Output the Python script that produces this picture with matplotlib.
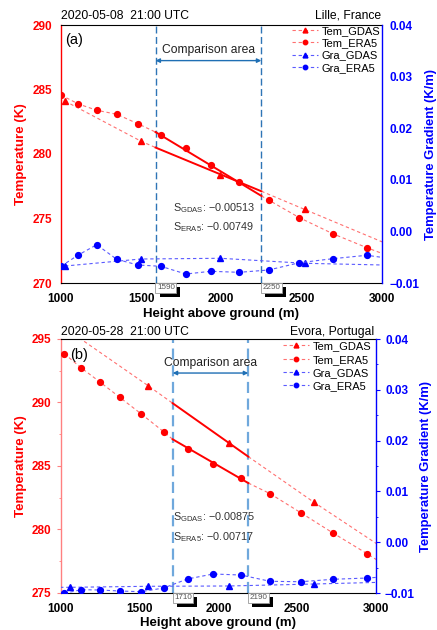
import numpy as np
import matplotlib
matplotlib.use('Agg')
import matplotlib.pyplot as plt
from matplotlib.lines import Line2D
from matplotlib.ticker import FuncFormatter, MultipleLocator
import matplotlib.transforms as mtransforms
import matplotlib.patheffects as pe

plt.rcParams['font.family'] = ['Liberation Sans', 'DejaVu Sans']
plt.rcParams['mathtext.fontset'] = 'custom'
plt.rcParams['mathtext.rm'] = 'Liberation Sans'
plt.rcParams['mathtext.it'] = 'Liberation Sans:italic'
plt.rcParams['mathtext.bf'] = 'Liberation Sans:bold'

# ---------------- Panel (a): Lille ----------------
a_h_era5 = [1000, 1108, 1223, 1348, 1479, 1623, 1779, 1935, 2112, 2296, 2488, 2696, 2908, 3130]
a_t_era5 = [284.57, 283.88, 283.39, 283.08, 282.35, 281.47, 280.49, 279.15, 277.85, 276.43,
            275.06, 273.82, 272.74, 271.7]
a_g_era5 = [-0.00676, -0.00457, -0.00258, -0.00541, -0.00651, -0.00676, -0.00826, -0.00773,
            -0.00793, -0.00748, -0.00607, -0.00529, -0.00463, -0.00557]
a_h_gdas = [1025, 1498, 1994, 2521, 3050]
a_t_gdas = [284.1, 281.0, 278.4, 275.7, 272.95]
a_g_gdas = [-0.00671, -0.00535, -0.00521, -0.00618, -0.00654]
a_area = [1590, 2250]
a_fit_start = [280.5, 281.7]        # GDAS, ERA5 fitted temperature at area start
a_slopes = [-0.00513, -0.00749]     # GDAS, ERA5
a_title = '2020-05-08  21:00 UTC'
a_place = 'Lille, France'

# ---------------- Panel (b): Evora ----------------
b_h_era5 = [1021, 1129, 1248, 1373, 1508, 1652, 1804, 1967, 2143, 2329, 2524, 2729, 2946, 3160]
b_t_era5 = [293.84, 292.72, 291.61, 290.41, 289.12, 287.70, 286.31, 285.13, 284.03, 282.82,
            281.32, 279.72, 278.09, 276.4]
b_g_era5 = [-0.01006, -0.00935, -0.00941, -0.00961, -0.00974, -0.00902, -0.00724, -0.00626,
            -0.00646, -0.0077, -0.00778, -0.0073, -0.00705, -0.0066]
b_h_gdas = [560, 1057, 1554, 2067, 2608, 3150]
b_t_gdas = [299.9, 295.59, 291.32, 286.79, 282.14, 277.7]
b_g_gdas = [-0.0089, -0.00888, -0.00868, -0.00862, -0.00823, -0.0078]
b_area = [1710, 2190]
b_fit_start = [289.94, 287.1]
b_slopes = [-0.00875, -0.00717]
b_title = '2020-05-28  21:00 UTC'
b_place = 'Evora, Portugal'

series_names = ['Tem_GDAS', 'Tem_ERA5', 'Gra_GDAS', 'Gra_ERA5']

RED = '#ff0000'
PINK = '#ff7070'
BLUE = '#0000ff'
LBLUE = '#5a5aff'

W, H = 437, 630
fig = plt.figure(figsize=(W / 100, H / 100), dpi=100)


def fmt_minus(v, _):
    s = f'{v:.2f}'
    if s == '-0.00':
        s = '0.00'
    return s.replace('-', '\u2212')


def panel(rect, h_e, t_e, g_e, h_g, t_g, g_g, area, fit_start, slopes, title, place,
          tlim, tticks, left_spine_col, vline_col, vline_lw, lbl, lbl_pos,
          arrow_y, text_y, s_xy, leg_anchor, leg_spacing, place_x, xlab_y, ylab_x,
          ytick_len, ytick_pad):
    ax = fig.add_axes(rect)
    ax2 = ax.twinx()
    ax.set_xlim(1000, 3000)
    ax.set_ylim(*tlim)
    ax2.set_ylim(-0.01, 0.04)

    # dashed temperature lines outside comparison area, solid fits inside
    for (h, t), f0, sl in zip([(h_g, t_g), (h_e, t_e)], fit_start, slopes):
        h = np.array(h); t = np.array(t)
        f1 = f0 + sl * (area[1] - area[0])
        lh = list(h[h < area[0]]) + [area[0]]
        lt = list(t[h < area[0]]) + [f0]
        rh = [area[1]] + list(h[h > area[1]])
        rt = [f1] + list(t[h > area[1]])
        ax.plot(lh, lt, color=PINK, lw=0.8, ls=(0, (3, 2.5)), zorder=2)
        ax.plot(rh, rt, color=PINK, lw=0.8, ls=(0, (3, 2.5)), zorder=2)
        ax.plot(area, [f0, f1], color=RED, lw=1.4, zorder=3)
    ax.plot(h_g, t_g, ls='none', marker='^', ms=5, color=RED, zorder=4)
    ax.plot(h_e, t_e, ls='none', marker='o', ms=4.2, color=RED, zorder=4)

    ax2.plot(h_g, g_g, color=LBLUE, lw=0.8, ls=(0, (3, 2.5)), marker='^', ms=5,
             mfc=BLUE, mec=BLUE)
    ax2.plot(h_e, g_e, color=LBLUE, lw=0.8, ls=(0, (3, 2.5)), marker='o', ms=4.2,
             mfc=BLUE, mec=BLUE)

    # comparison area
    for xv in area:
        ax.axvline(xv, color=vline_col, lw=vline_lw, ls=(0, (5, 2.5)), zorder=1)
    trans = mtransforms.blended_transform_factory(ax.transData, ax.transAxes)
    ax.annotate('', xy=(area[0], arrow_y), xytext=(area[1], arrow_y), xycoords=trans,
                textcoords=trans,
                arrowprops=dict(arrowstyle='<|-|>', color='#1f6fb4', lw=1.0,
                                mutation_scale=6, shrinkA=0, shrinkB=0))
    ax.text(np.mean(area), text_y, 'Comparison area', transform=trans, ha='center',
            va='center', fontsize=8.7, color='#222222')

    # area boundary value boxes (white box with black drop shadow)
    for xv in area:
        tb = ax.annotate(str(xv), xy=(xv, 0), xycoords=trans, xytext=(1.0, -0.9),
                         textcoords='offset points', ha='left', va='top', fontsize=5.8,
                         color='#555555', annotation_clip=False, zorder=6,
                         bbox=dict(boxstyle='square,pad=0.18', fc='white', ec='#999999', lw=0.6))
        tb.get_bbox_patch().set_path_effects([
            pe.SimplePatchShadow(offset=(2.9, -2.9), shadow_rgbFace='black', alpha=1.0),
            pe.Normal()])

    # slopes
    ax.text(s_xy[0], s_xy[1], r'S$_{\mathrm{GDAS}}$: ' + f'{slopes[0]:.5f}'.replace('-', '\u2212'),
            transform=trans, ha='left', va='center', fontsize=7.8, color='#333333')
    ax.text(s_xy[0], s_xy[2], r'S$_{\mathrm{ERA5}}$: ' + f'{slopes[1]:.5f}'.replace('-', '\u2212'),
            transform=trans, ha='left', va='center', fontsize=7.8, color='#333333')

    # labels
    ax.text(lbl_pos[0], lbl_pos[1], lbl, transform=ax.transAxes, ha='center', va='center',
            fontsize=10.5)
    ax.text(0.0, title[1], title[0], transform=ax.transAxes, ha='left', va='center', fontsize=8.7)
    ax.text(place_x, title[1], place, transform=ax.transAxes, ha='right', va='center',
            fontsize=8.7)

    # axes styling
    ax.set_xticks([1000, 1500, 2000, 2500, 3000])
    ax.set_yticks(tticks)
    ax2.set_yticks([-0.01, 0.0, 0.01, 0.02, 0.03, 0.04])
    ax2.yaxis.set_major_formatter(FuncFormatter(fmt_minus))
    if ytick_len > 0:
        ax.yaxis.set_minor_locator(MultipleLocator(2.5))
        ax2.yaxis.set_minor_locator(MultipleLocator(0.005))
    ax.tick_params(axis='x', direction='in', length=0, labelsize=8.5, pad=7)
    ax.tick_params(axis='y', which='major', direction='out', length=ytick_len,
                   color=left_spine_col, labelcolor=RED, labelsize=8.5, pad=ytick_pad)
    ax.tick_params(axis='y', which='minor', direction='out', length=ytick_len * 0.55,
                   color=left_spine_col)
    ax2.tick_params(axis='y', which='major', direction='out', length=ytick_len, color=BLUE,
                    labelcolor=BLUE, labelsize=8.5, pad=ytick_pad)
    ax2.tick_params(axis='y', which='minor', direction='out', length=ytick_len * 0.55,
                    color=BLUE)
    for t in ax.get_xticklabels() + ax.get_yticklabels() + ax2.get_yticklabels():
        t.set_fontweight('bold')
    ax.spines['left'].set_color(left_spine_col)
    ax2.spines['left'].set_visible(False)
    ax2.spines['right'].set_color(BLUE)
    ax2.spines['right'].set_linewidth(1.0)
    ax.spines['left'].set_linewidth(1.0)
    ax.spines['right'].set_visible(False)
    ax2.spines['top'].set_visible(False)
    ax2.spines['bottom'].set_visible(False)

    ax.set_xlabel('Height above ground (m)', fontsize=9.5, fontweight='bold')
    ax.xaxis.set_label_coords(0.5, xlab_y)
    ax.set_ylabel('Temperature (K)', fontsize=9.6, fontweight='bold', color=RED)
    ax.yaxis.set_label_coords(ylab_x[0], 0.5)
    ax2.set_ylabel('Temperature Gradient (K/m)', fontsize=9.4, fontweight='bold', color=BLUE)
    ax2.yaxis.set_label_coords(ylab_x[1], 0.5)

    handles = [
        Line2D([], [], color=PINK, lw=0.8, ls=(0, (3, 2.5)), marker='^', ms=3.5, mfc=RED, mec=RED),
        Line2D([], [], color=PINK, lw=0.8, ls=(0, (3, 2.5)), marker='o', ms=3.2, mfc=RED, mec=RED),
        Line2D([], [], color=LBLUE, lw=0.8, ls=(0, (3, 2.5)), marker='^', ms=3.5, mfc=BLUE, mec=BLUE),
        Line2D([], [], color=LBLUE, lw=0.8, ls=(0, (3, 2.5)), marker='o', ms=3.2, mfc=BLUE, mec=BLUE),
    ]
    ax2.legend(handles, series_names, loc='upper right', bbox_to_anchor=leg_anchor,
               frameon=False, fontsize=8, handlelength=2.4, handletextpad=0.3,
               labelspacing=leg_spacing, borderaxespad=0, borderpad=0.1)
    return ax, ax2


panel([61 / W, 1 - 283 / H, 320.5 / W, 258 / H], a_h_era5, a_t_era5, a_g_era5,
      a_h_gdas, a_t_gdas, a_g_gdas, a_area, a_fit_start, a_slopes, (a_title, 1.035), a_place,
      (270, 290), [270, 275, 280, 285, 290], RED, '#2e75b6', 1.0, '(a)', (0.04, 0.942),
      0.862, 0.903, (1700, 0.291, 0.217), (1.0, 1.0), 0.2, 1.0, -0.097, (-0.107, 1.136),
      0, 6.0)

panel([61 / W, 1 - 593 / H, 314.7 / W, 254 / H], b_h_era5, b_t_era5, b_g_era5,
      b_h_gdas, b_t_gdas, b_g_gdas, b_area, b_fit_start, b_slopes, (b_title, 1.029), b_place,
      (275, 295), [275, 280, 285, 290, 295], '#ff8080', '#6fa8dc', 1.6, '(b)', (0.057, 0.937),
      0.866, 0.907, (1711, 0.299, 0.222), (0.99, 0.995), 0.3, 0.9955, -0.093, (-0.108, 1.141),
      3.2, 3.5)

fig.savefig('out.png', dpi=100)
